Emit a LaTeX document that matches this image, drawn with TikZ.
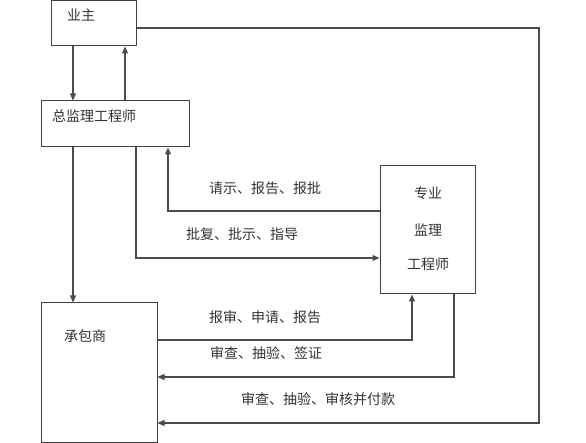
\documentclass[tikz,border=0pt]{standalone}
\usepackage{fontspec}
\setmainfont{Noto Sans CJK SC}
\usetikzlibrary{arrows.meta,positioning,calc}
\tikzset{
  box/.style={draw=black!75, line width=1pt, inner sep=0pt, fill=white},
  lbl/.style={inner sep=0pt, font=\fontsize{14}{16}\selectfont, text=black!80},
  conn/.style={draw=black!70, line width=1.1pt},
  arr/.style={conn, -{Triangle[length=7pt,width=6pt]}},
}
\begin{document}
\begin{tikzpicture}[x=1pt,y=-1pt]
\useasboundingbox (0,0) rectangle (586,443);
% boxes
\node[box, minimum width=85pt, minimum height=45pt] (owner) at (93.5,23.5) {};
\node[box, minimum width=148pt, minimum height=46pt] (chief) at (115,124) {};
\node[box, minimum width=95pt, minimum height=128pt] (spec) at (427.5,230) {};
\node[box, minimum width=116pt, minimum height=139pt] (contr) at (99,372.5) {};
% box texts
\node[lbl] (tOwner) at (81,15) {业主};
\node[lbl] (tChief) at (94,116) {总监理工程师};
\node[lbl] (tSpec1) at (428,193) {专业};
\node[lbl] (tSpec2) at (428,230) {监理};
\node[lbl] (tSpec3) at (428,264) {工程师};
\node[lbl] (tContr) at (85,336) {承包商};
% connector labels
\node[lbl] (l1) at (265,188) {请示、报告、报批};
\node[lbl] (l2) at (242,234) {批复、批示、指导};
\node[lbl] (l3) at (265,317) {报审、申请、报告};
\node[lbl] (l4) at (266,353) {审查、抽验、签证};
\node[lbl] (l5) at (318,399) {审查、抽验、审核并付款};
% coordinates
\coordinate (cR) at (539,28);
\coordinate (cRB) at (539,423);
% owner <-> chief
\draw[arr] (owner.south -| 73,0) -- (chief.north -| 73,0);
\draw[arr] (chief.north -| 125,0) -- (owner.south -| 125,0);
% chief -> contractor
\draw[arr] (chief.south -| 73,0) -- (contr.north -| 73,0);
% spec -> chief (request)
\draw[arr] (spec.west |- 0,211) -| (chief.south -| 168,0);
% chief -> spec (approve)
\draw[arr] (chief.south -| 136,0) |- (spec.west |- 0,258);
% contractor -> spec
\draw[arr] (contr.east |- 0,340) -| (spec.south -| 412,0);
% spec -> contractor
\draw[arr] (spec.south -| 454,0) |- (contr.east |- 0,377);
% owner -> contractor
\draw[arr] (owner.east |- cR) -- (cR) -- (cRB) -- (contr.east |- cRB);
\end{tikzpicture}
\end{document}
